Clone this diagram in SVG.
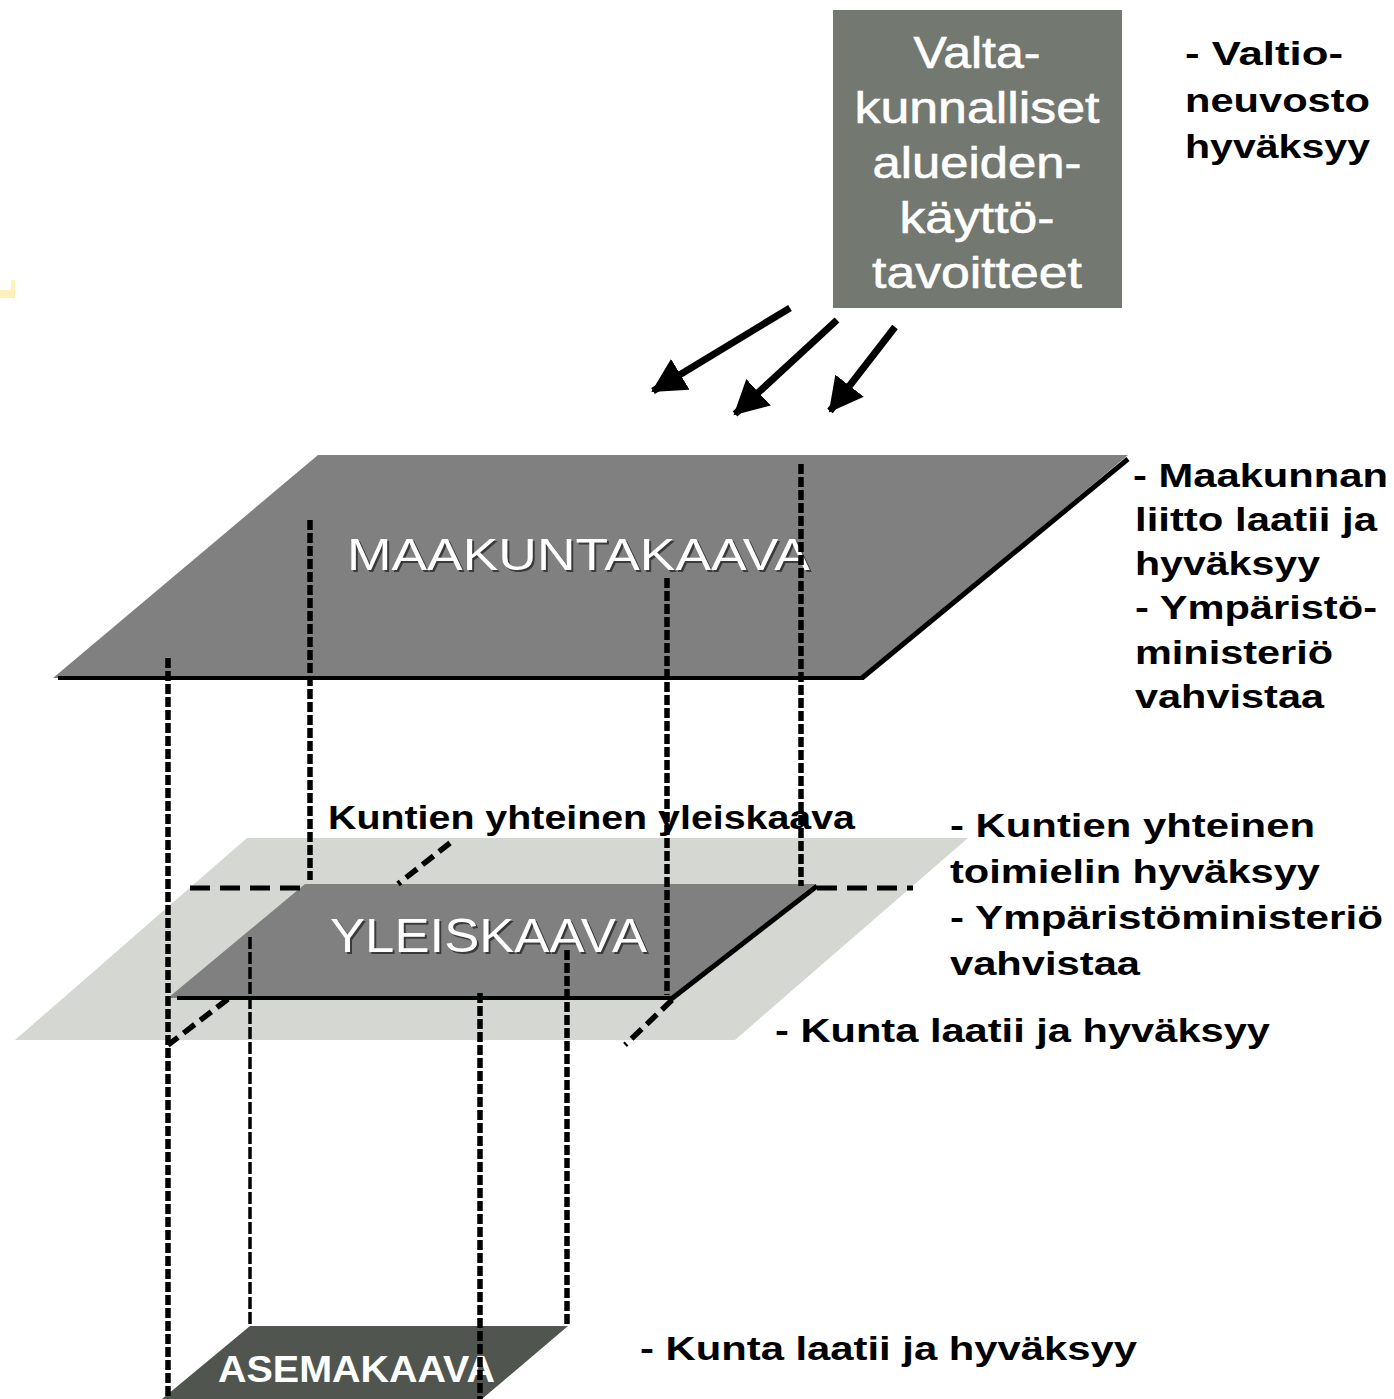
<svg xmlns="http://www.w3.org/2000/svg" width="1394" height="1399" viewBox="0 0 1394 1399">
<style>
.lbl{font-family:"Liberation Sans",Arial,sans-serif;font-weight:bold;fill:#000;font-size:33px}
.box{font-family:"Liberation Sans",Arial,sans-serif;fill:#fff;font-size:44px;text-anchor:middle;stroke:#fff;stroke-width:0.6}
.pl{font-family:"Liberation Sans",Arial,sans-serif;fill:#fff}
.sh{fill:#3a3a3a}
.dash{stroke:#000;fill:none;stroke-width:5.5;stroke-dasharray:10 3}
.dthin{stroke:#000;fill:none;stroke-width:3.5;stroke-dasharray:12 3}
.dh{stroke:#000;fill:none;stroke-width:5;stroke-dasharray:20 10}
.dd{stroke:#000;fill:none;stroke-width:5.5;stroke-dasharray:14 7}
.edge{stroke:#000;fill:none;stroke-width:4}
.arrow{stroke:#000;stroke-width:7;fill:none;marker-end:url(#ah)}
</style>
<defs>
<marker id="ah" markerUnits="userSpaceOnUse" markerWidth="36" markerHeight="36" refX="32" refY="18" orient="auto">
<path d="M0,0 L34,18 L0,36 Z" fill="#000"/>
</marker>
</defs>
<rect width="1394" height="1399" fill="#fff"/>
<path d="M11,280 h4 v18 h-15 v-8 h11 Z" fill="#fff1b8"/>

<g id="valtakunnalliset">
<rect x="833" y="10" width="289" height="298" fill="#737870"/>
<text class="box" x="977" y="68" textLength="127" lengthAdjust="spacingAndGlyphs">Valta-</text>
<text class="box" x="977" y="123" textLength="245" lengthAdjust="spacingAndGlyphs">kunnalliset</text>
<text class="box" x="977" y="178" textLength="209" lengthAdjust="spacingAndGlyphs">alueiden-</text>
<text class="box" x="977" y="233" textLength="155" lengthAdjust="spacingAndGlyphs">käyttö-</text>
<text class="box" x="977" y="288" textLength="210" lengthAdjust="spacingAndGlyphs">tavoitteet</text>
</g>

<g id="valtio-label">
<text class="lbl" x="1185" y="65" textLength="158" lengthAdjust="spacingAndGlyphs">- Valtio-</text>
<text class="lbl" x="1185" y="112" textLength="185" lengthAdjust="spacingAndGlyphs">neuvosto</text>
<text class="lbl" x="1185" y="158" textLength="185" lengthAdjust="spacingAndGlyphs">hyväksyy</text>
</g>

<g id="maakuntakaava">
<polygon points="318,455 1128,455 862,678 53,678" fill="#808080"/>
<line class="edge" x1="58" y1="678" x2="864" y2="678"/>
<line x1="862" y1="678" x2="1128" y2="459" stroke="#000" stroke-width="5"/>
<text class="pl sh" x="349" y="572" font-size="44" textLength="463" lengthAdjust="spacingAndGlyphs">MAAKUNTAKAAVA</text>
<text class="pl" x="347" y="570" font-size="44" textLength="463" lengthAdjust="spacingAndGlyphs">MAAKUNTAKAAVA</text>
</g>

<g id="maakunta-label">
<text class="lbl" x="1133" y="487" textLength="255" lengthAdjust="spacingAndGlyphs">- Maakunnan</text>
<text class="lbl" x="1135" y="531" textLength="242" lengthAdjust="spacingAndGlyphs">liitto laatii ja</text>
<text class="lbl" x="1135" y="575" textLength="185" lengthAdjust="spacingAndGlyphs">hyväksyy</text>
<text class="lbl" x="1135" y="619" textLength="242" lengthAdjust="spacingAndGlyphs">- Ympäristö-</text>
<text class="lbl" x="1135" y="664" textLength="198" lengthAdjust="spacingAndGlyphs">ministeriö</text>
<text class="lbl" x="1135" y="708" textLength="189" lengthAdjust="spacingAndGlyphs">vahvistaa</text>
</g>

<g id="kuntien-yhteinen-yleiskaava">
<polygon points="247,838 968,838 735,1040 15,1040" fill="#d4d7d2"/>
<text class="lbl" x="328" y="829" textLength="527" lengthAdjust="spacingAndGlyphs">Kuntien yhteinen yleiskaava</text>
</g>

<g id="yleiskaava">
<polygon points="305,884 815,884 672,998 168,998" fill="#808080"/>
<line class="edge" x1="177" y1="998" x2="673" y2="998"/>
<line x1="670" y1="1000" x2="817" y2="886" stroke="#000" stroke-width="5"/>
<text class="pl sh" x="332" y="954" font-size="48" textLength="317" lengthAdjust="spacingAndGlyphs">YLEISKAAVA</text>
<text class="pl" x="330" y="952" font-size="48" textLength="317" lengthAdjust="spacingAndGlyphs">YLEISKAAVA</text>
</g>

<g id="kuntien-label">
<text class="lbl" x="950" y="837" textLength="365" lengthAdjust="spacingAndGlyphs">- Kuntien yhteinen</text>
<text class="lbl" x="950" y="883" textLength="370" lengthAdjust="spacingAndGlyphs">toimielin hyväksyy</text>
<text class="lbl" x="950" y="929" textLength="433" lengthAdjust="spacingAndGlyphs">- Ympäristöministeriö</text>
<text class="lbl" x="950" y="975" textLength="190" lengthAdjust="spacingAndGlyphs">vahvistaa</text>
<text class="lbl" x="775" y="1042" textLength="495" lengthAdjust="spacingAndGlyphs">- Kunta laatii ja hyväksyy</text>
</g>

<g id="asemakaava">
<polygon points="250,1326 568,1326 482,1399 162,1399" fill="#50554f"/>
<text class="pl" x="218" y="1382" font-size="36" font-weight="bold" textLength="277" lengthAdjust="spacingAndGlyphs">ASEMAKAAVA</text>
</g>

<g id="asemakaava-label">
<text class="lbl" x="640" y="1360" textLength="497" lengthAdjust="spacingAndGlyphs">- Kunta laatii ja hyväksyy</text>
</g>

<g id="connectors">
<line class="arrow" x1="790" y1="308" x2="653" y2="391"/>
<line class="arrow" x1="837" y1="320" x2="735" y2="414"/>
<line class="arrow" x1="895" y1="327" x2="830" y2="411"/>

<line class="dash" x1="168" y1="658" x2="168" y2="1399"/>
<line class="dash" x1="310" y1="520" x2="310" y2="880"/>
<line class="dash" x1="667" y1="578" x2="667" y2="995"/>
<line class="dash" x1="801" y1="464" x2="801" y2="886"/>
<line class="dthin" x1="250" y1="937" x2="250" y2="1326"/>
<line class="dash" x1="480" y1="993" x2="480" y2="1399"/>
<line class="dash" x1="567" y1="950" x2="567" y2="1326"/>

<line class="dh" x1="190" y1="888" x2="305" y2="888"/>
<line class="dh" x1="817" y1="888" x2="913" y2="888"/>
<line class="dd" x1="450" y1="843" x2="398" y2="884"/>
<line class="dd" x1="228" y1="999" x2="168" y2="1045"/>
<line class="dd" x1="672" y1="1000" x2="625" y2="1045"/>
</g>
</svg>
